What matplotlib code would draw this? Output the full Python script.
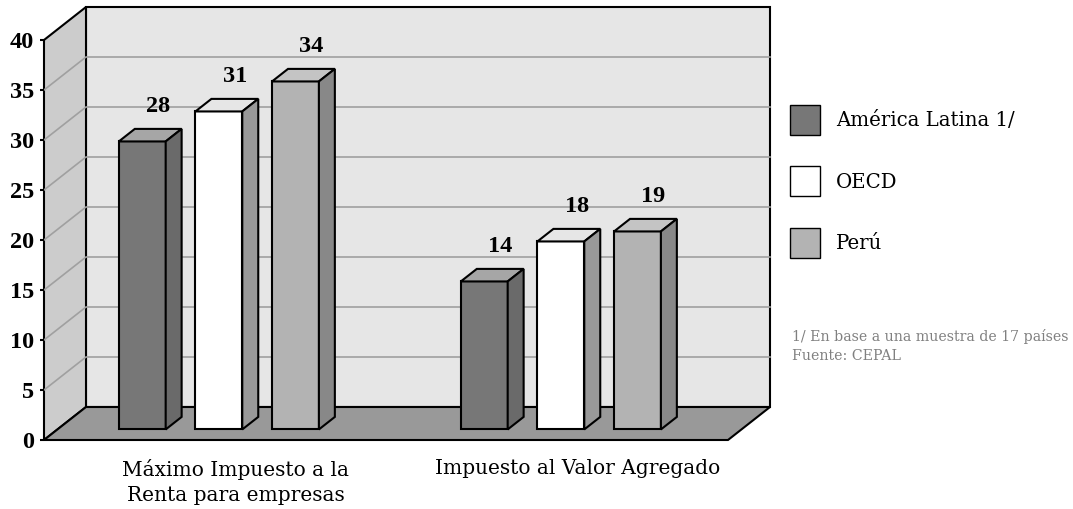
import numpy as np
import matplotlib
matplotlib.use("Agg")
import matplotlib.pyplot as plt
from matplotlib.patches import Polygon, Patch

# datos del grafico
categorias = ["Máximo Impuesto a la\nRenta para empresas", "Impuesto al Valor Agregado"]
series = ["América Latina 1/", "OECD", "Perú"]
america_latina = [28, 14]
oecd = [31, 18]
peru = [34, 19]
y_ticks = list(range(0, 45, 5))
nota = "1/ En base a una muestra de 17 países\nFuente: CEPAL"

# colores (frente, tapa, lado) de cada serie
colores = [("#777777", "#a6a6a6", "#6a6a6a"),
           ("#ffffff", "#e6e6e6", "#999999"),
           ("#b3b3b3", "#c4c4c4", "#888888")]

# profundidad de la caja 3D en unidades de datos
DX = 42 / 342
DY = 3.3
ANCHO = 0.137
D0, D1 = 0.32, 0.70
LIFT = 0.8


def P(x, v, d):
    # proyeccion oblicua: x del piso, valor, fraccion de profundidad
    return (x + d * DX, v + d * DY)


def cara(ax, pts, fc, lw=1.5, z=2):
    ax.add_patch(Polygon([P(*p) for p in pts], closed=True, facecolor=fc,
                         edgecolor="black", linewidth=lw, clip_on=False, zorder=z))


fig = plt.figure(figsize=(10.73, 5.09), dpi=100)
fig.patch.set_facecolor("white")
ax = fig.add_axes([44 / 1073, 69 / 509, 684 / 1073, 400 / 509])
ax.set_xlim(0, 2)
ax.set_ylim(0, 40)
ax.patch.set_visible(False)
for s in ax.spines.values():
    s.set_visible(False)

ymax = y_ticks[-1]
ncat = len(categorias)

# paredes y piso
cara(ax, [(0, 0, 1), (ncat, 0, 1), (ncat, ymax, 1), (0, ymax, 1)], "#e6e6e6", z=1)
cara(ax, [(0, 0, 0), (0, 0, 1), (0, ymax, 1), (0, ymax, 0)], "#cccccc", z=1)
cara(ax, [(0, 0, 0), (ncat, 0, 0), (ncat, 0, 1), (0, 0, 1)], "#999999", z=1)

# lineas de cuadricula
for v in y_ticks[1:-1]:
    xs, ys = zip(P(0, v, 0), P(0, v, 1), P(ncat, v, 1))
    ax.plot(xs, ys, color="#a0a0a0", lw=1.2, zorder=1.5, clip_on=False)

# barras
valores = [america_latina, oecd, peru]
offsets = (np.arange(len(series)) - 1) * 0.224 - 0.028
for j, vals in enumerate(valores):
    fr, tp, ld = colores[j]
    for i, v in enumerate(vals):
        xc = i + 0.5 + offsets[j]
        x0, x1 = xc - ANCHO / 2, xc + ANCHO / 2
        top = v + LIFT
        cara(ax, [(x0, 0, D0), (x1, 0, D0), (x1, top, D0), (x0, top, D0)], fr)
        cara(ax, [(x0, top, D0), (x1, top, D0), (x1, top, D1), (x0, top, D1)], tp)
        cara(ax, [(x1, 0, D0), (x1, 0, D1), (x1, top, D1), (x1, top, D0)], ld)
        tx, ty = P(xc, top, D1)
        ax.text(tx, ty + 1.2, str(v), ha="center", va="bottom",
                fontsize=17.5, fontweight="bold", family="Liberation Serif", zorder=5)

# ejes
ax.set_yticks(y_ticks)
ax.set_yticklabels([str(t) for t in y_ticks], fontsize=17.5, fontweight="bold",
                   family="Liberation Serif")
ax.tick_params(axis="y", length=3, width=1.5, pad=4)
ax.set_xticks([i + 0.5 + 0.5 * DX for i in range(ncat)])
ax.set_xticklabels(categorias, fontsize=14.5, family="DejaVu Serif", linespacing=1.4)
ax.tick_params(axis="x", length=0, pad=14)

# leyenda
handles = [Patch(facecolor=c[0], edgecolor="black", linewidth=1) for c in colores]
fig.legend(handles, series, loc="upper left", bbox_to_anchor=(790 / 1073, 1 - 105 / 509),
           frameon=False, prop={"family": "DejaVu Serif", "size": 14.2},
           handlelength=1.52, handleheight=1.95, handletextpad=0.8, labelspacing=1.6,
           borderpad=0, borderaxespad=0)

fig.text(792 / 1073, 1 - 329 / 509, nota, fontsize=10.2, family="DejaVu Serif",
         color="#808080", va="top", linespacing=1.45)

fig.savefig("out.png", dpi=100, facecolor="white")
